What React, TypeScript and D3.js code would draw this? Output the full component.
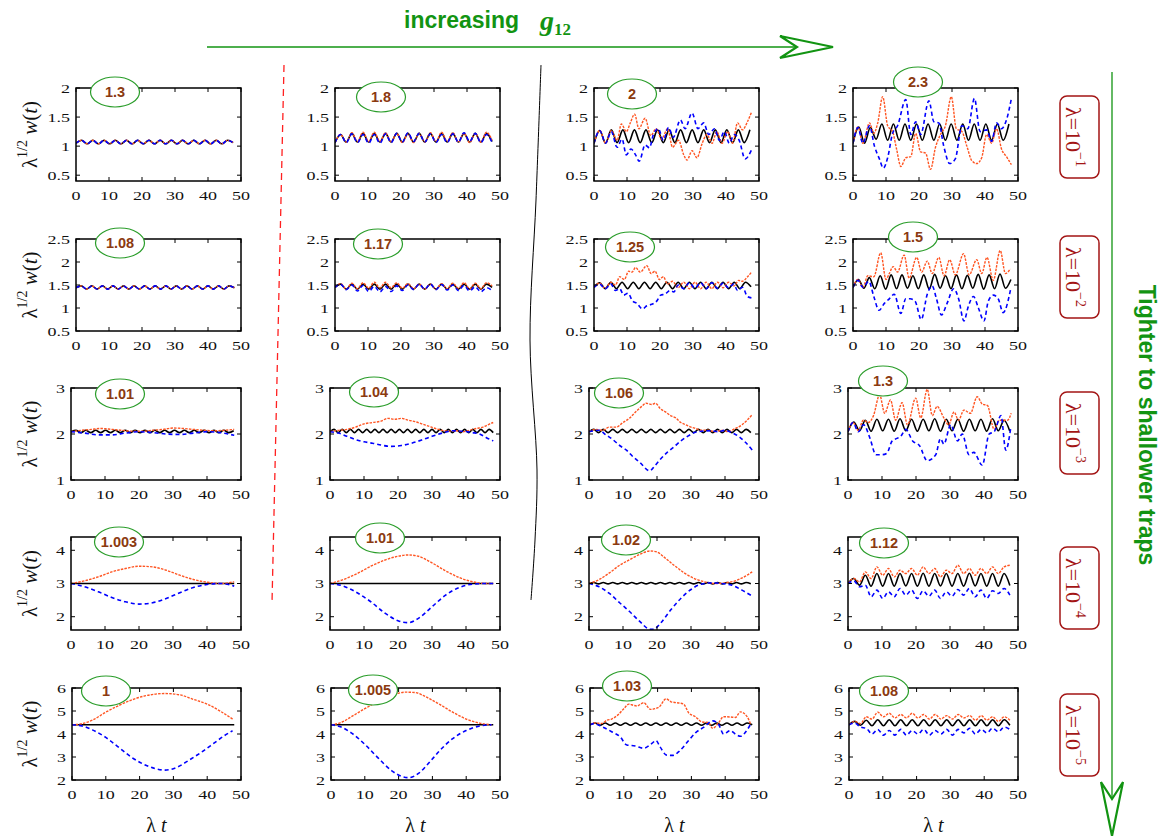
import React from "react";
import * as d3 from "d3";

type Pt = [number, number];

// ---------------- axis / label data ----------------
const xTicks = [0, 10, 20, 30, 40, 50];
const xDomain: [number, number] = [0, 50];
const rowYDomains: [number, number][] = [[0.4, 2], [0.5, 2.5], [1, 3], [1.6, 4.4], [2, 6]];
const rowYTicks = [[0.5, 1, 1.5, 2], [0.5, 1, 1.5, 2, 2.5], [1, 2, 3], [2, 3, 4], [2, 3, 4, 5, 6]];
const g12Labels = [
  ["1.3", "1.8", "2", "2.3"],
  ["1.08", "1.17", "1.25", "1.5"],
  ["1.01", "1.04", "1.06", "1.3"],
  ["1.003", "1.01", "1.02", "1.12"],
  ["1", "1.005", "1.03", "1.08"],
];
const lambdaExponents = ["\u22121", "\u22122", "\u22123", "\u22124", "\u22125"];

// ---------------- black (mean width) series: values at successive half-periods ----------------
const blackSteps = [
  [1.7, 1.7, 1.75, 1.75],
  [1.6, 1.7, 1.7, 1.65],
  [1.45, 1.2, 1.4, 1.7],
  [48, 48, 1.4, 1.7],
  [48, 48, 1.5, 1.7],
];

const r1c1Osc = [1.05, 1.1, 1.04, 1.1, 1.04, 1.1, 1.04, 1.1, 1.04, 1.1, 1.04, 1.1, 1.04, 1.1, 1.04, 1.1, 1.04, 1.1, 1.04, 1.1, 1.04, 1.1, 1.04, 1.1, 1.04, 1.1, 1.04, 1.1, 1.06];
const r1c2Black = [1.06, 1.2, 1.07, 1.22, 1.07, 1.22, 1.07, 1.22, 1.07, 1.22, 1.07, 1.22, 1.07, 1.22, 1.07, 1.22, 1.07, 1.22, 1.07, 1.22, 1.07, 1.22, 1.07, 1.22, 1.07, 1.22, 1.07, 1.22, 1.08];
const r1c2Orange = [1.06, 1.2, 1.07, 1.23, 1.08, 1.24, 1.08, 1.24, 1.08, 1.23, 1.07, 1.22, 1.06, 1.21, 1.06, 1.22, 1.07, 1.23, 1.08, 1.24, 1.08, 1.23, 1.07, 1.22, 1.06, 1.22, 1.07, 1.24, 1.1];
const r1c2Blue = [1.06, 1.2, 1.06, 1.21, 1.06, 1.2, 1.05, 1.2, 1.05, 1.21, 1.06, 1.22, 1.07, 1.23, 1.08, 1.22, 1.07, 1.21, 1.06, 1.2, 1.06, 1.21, 1.07, 1.23, 1.08, 1.22, 1.06, 1.2, 1.06];
const r1c3Black = [1.05, 1.27, 1.05, 1.28, 1.06, 1.28, 1.06, 1.28, 1.06, 1.28, 1.06, 1.28, 1.06, 1.28, 1.06, 1.28, 1.06, 1.28, 1.06, 1.28, 1.06, 1.28, 1.06, 1.28, 1.06, 1.28, 1.06, 1.28];
const r1c4Black = [1.05, 1.33, 1.05, 1.32, 1.12, 1.38, 1.1, 1.38, 1.1, 1.38, 1.1, 1.38, 1.1, 1.38, 1.1, 1.38, 1.1, 1.38, 1.1, 1.38, 1.1, 1.38, 1.1, 1.38, 1.1, 1.38, 1.1, 1.38];

const r2c1Osc = [1.44, 1.48, 1.41, 1.48, 1.41, 1.48, 1.41, 1.48, 1.41, 1.48, 1.41, 1.48, 1.41, 1.48, 1.41, 1.48, 1.41, 1.48, 1.41, 1.48, 1.41, 1.48, 1.41, 1.48, 1.41, 1.48, 1.41, 1.48, 1.41, 1.48, 1.44];
const r2c2Black = [1.45, 1.52, 1.41, 1.52, 1.41, 1.52, 1.41, 1.52, 1.41, 1.52, 1.41, 1.52, 1.41, 1.52, 1.41, 1.52, 1.41, 1.52, 1.41, 1.52, 1.41, 1.52, 1.41, 1.52, 1.41, 1.52, 1.41, 1.52, 1.45];
const r2c2Orange = [1.45, 1.53, 1.41, 1.54, 1.42, 1.55, 1.43, 1.56, 1.44, 1.56, 1.44, 1.55, 1.43, 1.53, 1.42, 1.52, 1.41, 1.52, 1.41, 1.53, 1.42, 1.54, 1.43, 1.55, 1.42, 1.54, 1.42, 1.55, 1.48];
const r2c2Blue = [1.45, 1.52, 1.4, 1.5, 1.37, 1.49, 1.36, 1.47, 1.35, 1.47, 1.36, 1.48, 1.38, 1.5, 1.4, 1.52, 1.41, 1.52, 1.4, 1.51, 1.39, 1.5, 1.38, 1.49, 1.37, 1.46, 1.35, 1.44, 1.38];
const r2c3Black = [1.45, 1.55, 1.42, 1.56, 1.42, 1.56, 1.42, 1.56, 1.42, 1.56, 1.42, 1.56, 1.42, 1.56, 1.42, 1.56, 1.42, 1.56, 1.42, 1.56, 1.42, 1.56, 1.42, 1.56, 1.42, 1.56, 1.42, 1.56, 1.46];
const r2c4Black = [1.45, 1.62, 1.43, 1.66, 1.42, 1.7, 1.41, 1.72, 1.42, 1.72, 1.43, 1.7, 1.42, 1.72, 1.41, 1.73, 1.43, 1.7, 1.42, 1.72, 1.42, 1.71, 1.43, 1.73, 1.41, 1.72, 1.42, 1.74, 1.43, 1.62];

const r3c1Black = [2.05, 2.08, 2.03, 2.08, 2.03, 2.08, 2.03, 2.08, 2.03, 2.08, 2.03, 2.08, 2.03, 2.08, 2.03, 2.08, 2.03, 2.08, 2.03, 2.08, 2.03, 2.08, 2.03, 2.08, 2.03, 2.08, 2.03, 2.08, 2.03, 2.08, 2.03, 2.08, 2.03, 2.07];
const r3c2Black = [2.05, 2.1, 2.03, 2.1, 2.03, 2.1, 2.03, 2.1, 2.03, 2.1, 2.03, 2.1, 2.03, 2.1, 2.03, 2.1, 2.03, 2.1, 2.03, 2.1, 2.03, 2.1, 2.03, 2.1, 2.03, 2.1, 2.03, 2.1, 2.03, 2.1, 2.03, 2.1, 2.03, 2.1, 2.03, 2.1, 2.03, 2.1, 2.03, 2.1, 2.03];
const r3c3Black = [2.05, 2.1, 2.03, 2.1, 2.03, 2.1, 2.03, 2.1, 2.03, 2.1, 2.03, 2.1, 2.03, 2.1, 2.03, 2.1, 2.03, 2.1, 2.03, 2.1, 2.03, 2.1, 2.03, 2.1, 2.03, 2.1, 2.03, 2.1, 2.03, 2.1, 2.03, 2.1, 2.03, 2.1, 2.03];
const r3c4Black = [2.05, 2.26, 2.07, 2.3, 2.06, 2.32, 2.07, 2.32, 2.06, 2.33, 2.07, 2.32, 2.06, 2.32, 2.07, 2.33, 2.06, 2.32, 2.07, 2.32, 2.06, 2.32, 2.07, 2.32, 2.06, 2.33, 2.07, 2.3, 2.06];

const r4c1Black = [3.0, 3.0];
const r4c2Black = [3.0, 3.0];
const r4c3Black = [3.0, 3.03, 2.99, 3.03, 2.99, 3.03, 2.99, 3.03, 2.99, 3.03, 2.99, 3.03, 2.99, 3.03, 2.99, 3.03, 2.99, 3.03, 2.99, 3.03, 2.99, 3.03, 2.99, 3.03, 2.99, 3.03, 2.99, 3.03, 2.99, 3.03, 2.99, 3.03, 2.99, 3.03, 2.99];
const r4c4Black = [3.0, 3.15, 2.95, 3.25, 2.92, 3.3, 2.92, 3.3, 2.92, 3.3, 2.93, 3.3, 2.92, 3.31, 2.92, 3.3, 2.93, 3.3, 2.92, 3.3, 2.92, 3.31, 2.93, 3.3, 2.92, 3.3, 2.92, 3.3, 2.94];

const r5c1Black = [4.4, 4.4];
const r5c2Black = [4.4, 4.4];
const r5c3Black = [4.4, 4.48, 4.38, 4.48, 4.38, 4.48, 4.38, 4.48, 4.38, 4.48, 4.38, 4.48, 4.38, 4.48, 4.38, 4.48, 4.38, 4.48, 4.38, 4.48, 4.38, 4.48, 4.38, 4.48, 4.38, 4.48, 4.38, 4.48, 4.38, 4.48, 4.38, 4.48, 4.4];
const r5c4Black = [4.4, 4.55, 4.38, 4.6, 4.36, 4.62, 4.36, 4.62, 4.36, 4.62, 4.36, 4.62, 4.36, 4.62, 4.36, 4.62, 4.36, 4.62, 4.36, 4.62, 4.36, 4.62, 4.36, 4.62, 4.36, 4.62, 4.36, 4.62, 4.38];

// ---------------- component series (t, value) ----------------
const r1c3Orange: Pt[] = [[0, 1.05], [1.75, 1.27], [3.5, 1.05], [5.25, 1.27], [7, 1.1], [8.3, 1.38], [9.8, 1.25], [11, 1.4], [12.3, 1.55], [13.6, 1.3], [15.5, 1.48], [17.2, 1.18], [18.8, 1.3], [20.5, 1.12], [22.3, 1.3], [23.8, 0.98], [25.6, 1.1], [27.2, 0.85], [28.2, 0.76], [29.7, 0.92], [31.2, 0.8], [32.8, 1.05], [34.2, 1.2], [35.8, 1.05], [37.2, 1.25], [38.8, 1.05], [40.5, 1.25], [42, 1.05], [43.5, 1.4], [45, 1.28], [46.5, 1.42], [47.7, 1.58]];
const r1c3Blue: Pt[] = [[0, 1.05], [1.75, 1.27], [3.5, 1.05], [5.25, 1.25], [7, 0.98], [8.5, 1.12], [9.8, 0.85], [11.2, 0.95], [12.6, 0.85], [13.7, 0.74], [15.5, 1.02], [16.8, 0.97], [18, 1.2], [19.5, 1.3], [21, 1.1], [22.6, 1.32], [24, 1.15], [26.2, 1.45], [27.6, 1.3], [29.7, 1.57], [31.5, 1.3], [33.2, 1.4], [34.8, 1.2], [36.5, 1.3], [38, 1.1], [39.5, 1.25], [41, 1.05], [42.5, 1.2], [44, 1.1], [45.8, 0.78], [47.7, 0.93]];
const r1c4Orange: Pt[] = [[0, 1.05], [1.5, 1.33], [3, 1.05], [5, 1.4], [6.3, 1.22], [7.5, 1.4], [9, 1.85], [10.5, 1.35], [12, 1.25], [13.2, 0.95], [14.5, 0.65], [16, 0.8], [17.5, 0.82], [19, 1.22], [20.5, 0.9], [22, 0.88], [23.5, 0.6], [25, 0.98], [26.5, 1.2], [28, 1.35], [29.8, 1.85], [31.3, 1.3], [33, 1.25], [34.5, 1.0], [36, 0.75], [37.5, 0.7], [39, 0.8], [40.5, 1.2], [42, 1.05], [43.5, 1.3], [45, 0.95], [46.5, 0.82], [48, 0.68]];
const r1c4Blue: Pt[] = [[0, 1.05], [1.5, 1.32], [3, 1.05], [5, 1.35], [6.5, 1.0], [8, 0.78], [9.2, 0.62], [10.5, 0.8], [12, 1.22], [13.5, 1.35], [16, 1.8], [17.5, 1.2], [19, 1.42], [20.5, 1.2], [23, 1.78], [24.5, 1.42], [26, 1.4], [27.5, 1.0], [29.3, 0.7], [31, 0.78], [33, 1.35], [34.8, 1.3], [36.8, 1.82], [38.5, 1.25], [40.5, 1.28], [42, 1.08], [43.5, 1.4], [45, 1.3], [46.5, 1.45], [48, 1.82]];

const r2c3Orange: Pt[] = [[0, 1.45], [1.7, 1.54], [3.4, 1.43], [5.1, 1.56], [6.5, 1.5], [7.8, 1.68], [9.2, 1.62], [10.5, 1.8], [11.5, 1.78], [12.6, 1.88], [14, 1.78], [16, 1.92], [17.3, 1.75], [18.5, 1.8], [19.8, 1.62], [21, 1.68], [22.3, 1.52], [23.8, 1.58], [25.5, 1.44], [27.2, 1.56], [28.9, 1.42], [30.6, 1.56], [32.3, 1.42], [34, 1.56], [35.7, 1.42], [37.4, 1.56], [39.1, 1.44], [40.8, 1.56], [42.5, 1.48], [43.8, 1.6], [45, 1.58], [46.3, 1.66], [47.7, 1.78]];
const r2c3Blue: Pt[] = [[0, 1.45], [1.7, 1.52], [3.4, 1.42], [5.1, 1.52], [6.5, 1.38], [7.8, 1.42], [9, 1.28], [10.3, 1.32], [11.7, 1.15], [13, 1.1], [14.7, 0.98], [16, 1.05], [17.5, 1.08], [19, 1.15], [20.2, 1.28], [21.5, 1.3], [23, 1.38], [24.2, 1.35], [25.5, 1.5], [27.2, 1.42], [28.9, 1.55], [30.6, 1.43], [32.3, 1.55], [34, 1.42], [35.7, 1.55], [37.4, 1.43], [39.1, 1.54], [40.8, 1.44], [42.3, 1.52], [43.5, 1.38], [45, 1.45], [46.5, 1.25], [47.7, 1.22]];
const r2c4Orange: Pt[] = [[0, 1.45], [1.5, 1.62], [3, 1.45], [4.5, 1.7], [6.3, 1.68], [8.4, 2.2], [10, 1.62], [11, 1.75], [12.2, 1.9], [13.5, 1.78], [15.5, 2.15], [17, 1.65], [19.3, 2.1], [20.8, 1.78], [22.5, 2.02], [24, 1.75], [26, 2.1], [27.6, 1.7], [29.3, 2.05], [31, 1.72], [33.5, 2.18], [35.2, 1.72], [37.5, 2.05], [39, 1.75], [40.6, 2.1], [42.5, 1.6], [44.6, 2.25], [46.2, 1.75], [47.7, 1.85]];
const r2c4Blue: Pt[] = [[0, 1.45], [1.5, 1.6], [3, 1.45], [4.8, 1.58], [6.3, 1.25], [7.9, 0.95], [9.5, 1.1], [11, 1.2], [12.5, 1.3], [14.5, 0.88], [16, 1.2], [17.3, 1.2], [18.8, 1.15], [20.7, 0.75], [22.5, 1.3], [24, 1.48], [25.3, 1.2], [26.8, 0.85], [28.5, 1.1], [30.5, 1.42], [32, 1.2], [33.6, 0.72], [35, 1.05], [36.5, 1.25], [38, 1.0], [39.7, 0.72], [41, 1.15], [42.5, 1.28], [44, 1.2], [45.5, 0.9], [47.8, 1.42]];

const r3c1Orange: Pt[] = [[0, 2.05], [3, 2.08], [6, 2.1], [9, 2.12], [12, 2.1], [15, 2.08], [18, 2.06], [21, 2.06], [24, 2.08], [27, 2.1], [30, 2.13], [33, 2.12], [36, 2.1], [39, 2.08], [42, 2.07], [45, 2.08], [48, 2.1]];
const r3c1Blue: Pt[] = [[0, 2.05], [4, 2.02], [8, 1.98], [12, 1.98], [16, 2.02], [20, 2.05], [24, 2.03], [28, 2.0], [32, 1.99], [36, 2.02], [40, 2.05], [44, 2.03], [48, 1.97]];
const r3c2Orange: Pt[] = [[0, 2.05], [2.5, 2.08], [5, 2.1], [7.5, 2.15], [10, 2.22], [12.5, 2.25], [15, 2.28], [17, 2.34], [19, 2.32], [21, 2.34], [23, 2.3], [25, 2.27], [27, 2.22], [29, 2.17], [31, 2.12], [33, 2.08], [35, 2.06], [37, 2.07], [39, 2.05], [41, 2.08], [43, 2.12], [45, 2.15], [47, 2.22], [48, 2.25]];
const r3c2Blue: Pt[] = [[0, 2.05], [2.5, 2.02], [5, 1.95], [7.5, 1.88], [10, 1.83], [12.5, 1.8], [15, 1.76], [18, 1.73], [21, 1.75], [24, 1.8], [27, 1.87], [30, 1.95], [33, 2.02], [36, 2.07], [39, 2.06], [42, 2.03], [44, 2.0], [46, 1.92], [48, 1.85]];
const r3c3Orange: Pt[] = [[0, 2.05], [2, 2.1], [4, 2.08], [6, 2.15], [8, 2.15], [10, 2.25], [12, 2.35], [14, 2.5], [15.5, 2.6], [16.8, 2.67], [18.5, 2.64], [19.5, 2.67], [21, 2.55], [22.5, 2.48], [24, 2.4], [25.5, 2.35], [27, 2.25], [28.5, 2.2], [30, 2.15], [31.5, 2.12], [33, 2.08], [35, 2.08], [37, 2.05], [39, 2.08], [41, 2.05], [43, 2.12], [45, 2.2], [46.5, 2.3], [48, 2.42]];
const r3c3Blue: Pt[] = [[0, 2.05], [3, 2.08], [5, 1.98], [7, 1.88], [9, 1.75], [11, 1.65], [13, 1.5], [15, 1.38], [17.8, 1.2], [19.5, 1.32], [21, 1.45], [23, 1.6], [25, 1.72], [27, 1.85], [29, 1.95], [31, 2.03], [33, 2.06], [36, 2.07], [38, 2.05], [40, 2.08], [42, 2.03], [44, 1.95], [46, 1.82], [48, 1.65]];
const r3c4Orange: Pt[] = [[0, 2.05], [1.5, 2.25], [3, 2.08], [4.5, 2.3], [6, 2.25], [7.5, 2.4], [9.3, 2.85], [10.8, 2.45], [12.5, 2.74], [14, 2.3], [15.9, 2.68], [17.5, 2.2], [19.9, 2.78], [21.4, 2.35], [23.3, 2.97], [24.8, 2.4], [26.2, 2.6], [28.2, 2.35], [29.6, 2.2], [31.2, 2.48], [32.5, 2.3], [34.1, 2.52], [36, 2.45], [38, 2.81], [39.5, 2.65], [41, 2.62], [43, 2.1], [44.5, 2.3], [46.9, 2.3], [48, 2.45]];
const r3c4Blue: Pt[] = [[0, 2.05], [1.5, 2.25], [3, 2.05], [4.6, 2.2], [6.5, 1.9], [8.2, 1.55], [10, 1.55], [11.4, 1.58], [13, 1.85], [14.2, 1.9], [15.5, 1.95], [17, 2.1], [19, 1.85], [21, 1.75], [23.3, 1.42], [25.8, 1.55], [27.2, 1.9], [28.2, 1.78], [30.2, 2.2], [32.2, 1.85], [33.6, 2.0], [35.6, 1.55], [37, 1.6], [39.5, 1.32], [41.5, 2.0], [43, 2.05], [45, 2.4], [46.4, 1.65], [47.9, 2.15]];

const r4c1Orange: Pt[] = [[0, 3.0], [4, 3.08], [8, 3.2], [12, 3.35], [16, 3.45], [20, 3.52], [24, 3.5], [28, 3.4], [32, 3.25], [36, 3.12], [40, 3.04], [44, 3.0], [48, 3.05]];
const r4c1Blue: Pt[] = [[0, 3.0], [4, 2.9], [8, 2.75], [12, 2.58], [16, 2.45], [20, 2.38], [24, 2.42], [28, 2.55], [32, 2.72], [36, 2.88], [40, 2.97], [44, 3.0], [48, 2.92]];
const r4c2Orange: Pt[] = [[0, 3.0], [4, 3.12], [8, 3.3], [12, 3.52], [16, 3.7], [20, 3.82], [23, 3.86], [26, 3.82], [30, 3.62], [34, 3.38], [38, 3.18], [42, 3.05], [46, 3.0], [48, 3.0]];
const r4c2Blue: Pt[] = [[0, 3.0], [4, 2.92], [8, 2.72], [12, 2.45], [16, 2.12], [20, 1.88], [23, 1.82], [26, 1.95], [30, 2.3], [34, 2.65], [38, 2.88], [42, 2.98], [46, 3.0], [48, 3.0]];
const r4c3Orange: Pt[] = [[0, 3.0], [3, 3.12], [6, 3.32], [9, 3.55], [12, 3.72], [15, 3.88], [18, 3.98], [20, 3.95], [22, 3.8], [25, 3.55], [28, 3.32], [31, 3.15], [34, 3.05], [37, 3.0], [40, 3.02], [43, 3.08], [46, 3.22], [48, 3.35]];
const r4c3Blue: Pt[] = [[0, 3.0], [3, 2.9], [6, 2.7], [9, 2.42], [12, 2.15], [15, 1.85], [18, 1.62], [19, 1.62], [21, 1.8], [24, 2.2], [27, 2.55], [30, 2.82], [33, 2.98], [36, 3.02], [39, 3.0], [42, 2.95], [45, 2.8], [48, 2.62]];
const r4c4Orange: Pt[] = [[0, 3.0], [1.7, 3.15], [3.4, 3.05], [5.1, 3.35], [6.8, 3.15], [8.5, 3.5], [10.2, 3.25], [11.9, 3.45], [13.6, 3.2], [15.3, 3.4], [17, 3.3], [18.7, 3.45], [20.4, 3.25], [22.1, 3.5], [23.8, 3.3], [25.5, 3.45], [27.2, 3.2], [28.9, 3.4], [30.6, 3.3], [32.3, 3.55], [34, 3.3], [35.7, 3.45], [37.4, 3.25], [39.1, 3.45], [40.8, 3.3], [42.5, 3.5], [44.2, 3.3], [45.9, 3.5], [47.6, 3.55]];
const r4c4Blue: Pt[] = [[0, 3.0], [1.7, 3.08], [3.4, 2.9], [5.1, 2.95], [6.8, 2.6], [8.5, 2.8], [10.2, 2.55], [11.9, 2.75], [13.6, 2.6], [15.3, 2.85], [17, 2.65], [18.7, 2.8], [20.4, 2.55], [22.1, 2.78], [23.8, 2.62], [25.5, 2.8], [27.2, 2.55], [28.9, 2.75], [30.6, 2.62], [32.3, 2.82], [34, 2.65], [35.7, 2.85], [37.4, 2.6], [39.1, 2.8], [40.8, 2.55], [42.5, 2.78], [44.2, 2.7], [45.9, 2.85], [47.6, 2.65]];

const r5c1Orange: Pt[] = [[0, 4.4], [3, 4.45], [6, 4.6], [10, 4.95], [14, 5.25], [18, 5.5], [22, 5.67], [27.5, 5.76], [32, 5.7], [36, 5.5], [40, 5.3], [44, 4.98], [47.5, 4.65]];
const r5c1Blue: Pt[] = [[0, 4.4], [3, 4.35], [6, 4.18], [10, 3.85], [14, 3.4], [17.5, 3.0], [21, 2.7], [24.5, 2.5], [27.5, 2.43], [31, 2.55], [34.5, 2.85], [38, 3.18], [42, 3.6], [45, 3.92], [47.5, 4.14]];
const r5c2Orange: Pt[] = [[0, 4.4], [3, 4.5], [6, 4.75], [10, 5.1], [14, 5.42], [18, 5.68], [22, 5.82], [25, 5.8], [28, 5.62], [32, 5.3], [36, 4.95], [40, 4.65], [44, 4.47], [47.5, 4.4]];
const r5c2Blue: Pt[] = [[0, 4.4], [3, 4.3], [6, 4.05], [10, 3.55], [14, 2.95], [18, 2.4], [21, 2.15], [23, 2.1], [26, 2.3], [29, 2.75], [32, 3.25], [36, 3.8], [40, 4.15], [44, 4.35], [47.5, 4.4]];
const r5c3Orange: Pt[] = [[0, 4.4], [1.2, 4.48], [3.5, 4.46], [5, 4.6], [6.4, 4.65], [8.4, 4.85], [10, 5.1], [11.5, 5.3], [12.8, 5.25], [13.9, 5.22], [15.9, 5.36], [17.9, 5.07], [20.4, 5.17], [22.5, 5.53], [24, 5.4], [25.7, 5.36], [27.7, 5.3], [29.2, 4.92], [31.2, 4.75], [33.2, 4.52], [35, 4.5], [36.3, 4.25], [38.1, 4.5], [39.5, 4.75], [41.5, 4.74], [43, 4.72], [44.5, 4.96], [46.5, 4.75], [47.5, 4.43]];
const r5c3Blue: Pt[] = [[0, 4.4], [1.2, 4.45], [3.5, 4.32], [6.4, 4.1], [8.9, 3.88], [10.9, 3.52], [13.4, 3.48], [15.9, 3.38], [18.4, 3.6], [19.5, 3.72], [20.7, 3.45], [22.7, 3.08], [24.6, 3.07], [26.6, 3.28], [29.2, 3.72], [31.2, 4.05], [33.7, 4.3], [36.3, 4.57], [38.1, 4.4], [39.5, 4.0], [41.5, 4.15], [43, 4.0], [44.5, 3.9], [46.5, 4.18], [47.5, 4.42]];
const r5c4Orange: Pt[] = [[0, 4.4], [1.7, 4.55], [3.4, 4.45], [5.1, 4.75], [6.8, 4.65], [8.5, 4.95], [10.2, 4.75], [11.9, 4.9], [13.6, 4.7], [15.3, 4.85], [17, 4.7], [18.7, 4.9], [20.4, 4.7], [22.1, 4.85], [23.8, 4.65], [25.5, 4.85], [27.2, 4.65], [28.9, 4.8], [30.6, 4.65], [32.3, 4.85], [34, 4.7], [35.7, 4.8], [37.4, 4.6], [39.1, 4.8], [40.8, 4.6], [42.5, 4.75], [44.2, 4.55], [45.9, 4.75], [47.6, 4.6]];
const r5c4Blue: Pt[] = [[0, 4.4], [1.7, 4.48], [3.4, 4.3], [5.1, 4.25], [6.8, 4.0], [8.5, 4.2], [10.2, 3.95], [11.9, 4.15], [13.6, 3.95], [15.3, 4.2], [17, 3.95], [18.7, 4.15], [20.4, 4.0], [22.1, 4.2], [23.8, 3.95], [25.5, 4.15], [27.2, 4.0], [28.9, 4.2], [30.6, 3.95], [32.3, 4.2], [34, 4.05], [35.7, 4.25], [37.4, 4.0], [39.1, 4.2], [40.8, 4.05], [42.5, 4.25], [44.2, 4.1], [45.9, 4.3], [47.6, 4.2]];

// values sampled at successive half periods -> (t, value)
const alt = (step: number, ys: number[]): Pt[] => ys.map((y, i) => [i * step, y] as Pt);

const blackGrid = [
  [r1c1Osc, r1c2Black, r1c3Black, r1c4Black],
  [r2c1Osc, r2c2Black, r2c3Black, r2c4Black],
  [r3c1Black, r3c2Black, r3c3Black, r3c4Black],
  [r4c1Black, r4c2Black, r4c3Black, r4c4Black],
  [r5c1Black, r5c2Black, r5c3Black, r5c4Black],
];
const orangeGrid: Pt[][][] = [
  [alt(1.7, r1c1Osc), alt(1.7, r1c2Orange), r1c3Orange, r1c4Orange],
  [alt(1.6, r2c1Osc), alt(1.7, r2c2Orange), r2c3Orange, r2c4Orange],
  [r3c1Orange, r3c2Orange, r3c3Orange, r3c4Orange],
  [r4c1Orange, r4c2Orange, r4c3Orange, r4c4Orange],
  [r5c1Orange, r5c2Orange, r5c3Orange, r5c4Orange],
];
const blueGrid: Pt[][][] = [
  [alt(1.7, r1c1Osc), alt(1.7, r1c2Blue), r1c3Blue, r1c4Blue],
  [alt(1.6, r2c1Osc), alt(1.7, r2c2Blue), r2c3Blue, r2c4Blue],
  [r3c1Blue, r3c2Blue, r3c3Blue, r3c4Blue],
  [r4c1Blue, r4c2Blue, r4c3Blue, r4c4Blue],
  [r5c1Blue, r5c2Blue, r5c3Blue, r5c4Blue],
];

// ---------------- layout ----------------
const W = 1165;
const H = 836;
const colRight = [241, 500, 759, 1018];
const rowTop = [88, 239, 388, 537, 688];
const rowBottom = [181, 331, 480, 630, 780];
const rowWidth = [165, 165, 170, 170, 169];
const ovalCenters: [number, number][][] = [
  [[115, 92], [381, 97], [632, 94], [918, 82]],
  [[120, 243], [378, 244], [630, 247], [913, 237]],
  [[120, 394], [374, 392], [619, 393], [883, 381]],
  [[119, 542], [380, 538], [626, 540], [884, 543]],
  [[106, 691], [373, 690], [627, 686], [884, 691]],
];
const lambdaBoxCY = [137, 277, 433, 588, 735];

const GREEN = "#129412";
const ORANGE = "#ff5522";
const BLUE = "#0000ff";
const BROWN = "#8b3a10";
const DARKRED = "#a31515";
const SERIF = "'Liberation Serif', 'Times New Roman', serif";
const SANS = "'Liberation Sans', Arial, sans-serif";

function Panel({ r, c }: { r: number; c: number }) {
  const x0 = colRight[c] - rowWidth[r];
  const x1 = colRight[c];
  const y0 = rowTop[r];
  const y1 = rowBottom[r];
  const xs = d3.scaleLinear().domain(xDomain).range([x0, x1]);
  const ys = d3.scaleLinear().domain(rowYDomains[r]).range([y1, y0]);
  const line = d3
    .line<Pt>()
    .x((d) => xs(d[0]))
    .y((d) => ys(d[1]))
    .curve(d3.curveMonotoneX);
  const id = `clip-${r}-${c}`;
  const black = alt(blackSteps[r][c], blackGrid[r][c]);
  const [ox, oy] = ovalCenters[r][c];
  const tl = 4;
  return (
    <g>
      <defs>
        <clipPath id={id}>
          <rect x={x0} y={y0} width={x1 - x0} height={y1 - y0} />
        </clipPath>
      </defs>
      <g clipPath={`url(#${id})`}>
        <path d={line(black) || ""} fill="none" stroke="#000" strokeWidth={1.6} />
        <path d={line(orangeGrid[r][c]) || ""} fill="none" stroke={ORANGE} strokeWidth={1.4} strokeDasharray="2.5 1.2" />
        <path d={line(blueGrid[r][c]) || ""} fill="none" stroke={BLUE} strokeWidth={1.6} strokeDasharray="4 3" />
      </g>
      <rect x={x0} y={y0} width={x1 - x0} height={y1 - y0} fill="none" stroke="#000" strokeWidth={1.5} />
      {xTicks.map((t) => (
        <g key={`xt${t}`}>
          <line x1={xs(t)} x2={xs(t)} y1={y1} y2={y1 - tl} stroke="#000" strokeWidth={1} />
          <line x1={xs(t)} x2={xs(t)} y1={y0} y2={y0 + tl} stroke="#000" strokeWidth={1} />
          <text
            transform={`translate(${xs(t)},${y1 + 18.5}) scale(1,0.72)`}
            textAnchor="middle"
            fontSize={18}
            fontFamily={SERIF}
            fill="#111"
          >
            {String(t)}
          </text>
        </g>
      ))}
      {rowYTicks[r].map((v) => (
        <g key={`yt${v}`}>
          <line x1={x0} x2={x0 + tl} y1={ys(v)} y2={ys(v)} stroke="#000" strokeWidth={1} />
          <line x1={x1} x2={x1 - tl} y1={ys(v)} y2={ys(v)} stroke="#000" strokeWidth={1} />
          <text
            transform={`translate(${x0 - 6},${ys(v) + 4.5}) scale(1,0.72)`}
            textAnchor="end"
            fontSize={18}
            fontFamily={SERIF}
            fill="#111"
          >
            {String(v)}
          </text>
        </g>
      ))}
      <ellipse cx={ox} cy={oy} rx={24.5} ry={15} fill="#fff" stroke="#2a9d2a" strokeWidth={1.2} />
      <text x={ox} y={oy + 5} textAnchor="middle" fontSize={14.5} fontWeight="bold" fontFamily={SANS} fill={BROWN}>
        {g12Labels[r][c]}
      </text>
    </g>
  );
}

export default function App() {
  const rows = [0, 1, 2, 3, 4];
  const cols = [0, 1, 2, 3];
  const dividerPts: Pt[] = [[541, 65], [536, 200], [530, 340], [537, 470], [535, 540], [531, 600]];
  const curve = d3.line<Pt>().curve(d3.curveCatmullRom)(dividerPts) || "";
  return (
    <svg width={W} height={H} style={{ position: "absolute", left: 0, top: 0, background: "#fff" }}>
      <rect x={0} y={0} width={W} height={H} fill="#fff" />
      {/* top title and arrow */}
      <text x={404} y={28} fontFamily={SANS} fontWeight="bold" fontSize={23} fill={GREEN}>
        increasing
      </text>
      <text x={540} y={30} fontFamily={SERIF} fontStyle="italic" fontWeight="bold" fontSize={28} fill={GREEN}>
        g
        <tspan fontSize={17} dy={5} fontStyle="normal">
          12
        </tspan>
      </text>
      <line x1={207} x2={800} y1={47} y2={47} stroke={GREEN} strokeWidth={1.3} />
      <path d="M833,47 L780,36 L797,47 L780,58 Z" fill="#fff" stroke={GREEN} strokeWidth={2.2} strokeLinejoin="miter" />

      {/* right arrow and label */}
      <line x1={1112} x2={1112} y1={72} y2={800} stroke={GREEN} strokeWidth={1.3} />
      <path d="M1112,836 L1101,782 L1112,799 L1123,782 Z" fill="#fff" stroke={GREEN} strokeWidth={2.2} />
      <text
        transform="translate(1139,425) rotate(90)"
        textAnchor="middle"
        fontFamily={SANS}
        fontWeight="bold"
        fontSize={23}
        fill={GREEN}
      >
        Tighter to shallower traps
      </text>

      {/* dividers */}
      <line x1={284} y1={65} x2={272} y2={603} stroke="#ff2020" strokeWidth={1.3} strokeDasharray="7 5" />
      <path d={curve} fill="none" stroke="#000" strokeWidth={1} />

      {rows.map((r) =>
        cols.map((c) => <Panel key={`${r}-${c}`} r={r} c={c} />)
      )}

      {/* y-axis labels */}
      {rows.map((r) => (
        <text
          key={`yl${r}`}
          transform={`translate(37,${(rowTop[r] + rowBottom[r]) / 2}) rotate(-90)`}
          textAnchor="middle"
          fontSize={21}
          fontFamily={SERIF}
          fill="#111"
        >
          λ
          <tspan fontSize={14} dy={-10}>
            1/2
          </tspan>
          <tspan dy={10} fontStyle="italic">
            {" w"}
          </tspan>
          <tspan>(</tspan>
          <tspan fontStyle="italic">t</tspan>
          <tspan>)</tspan>
        </text>
      ))}

      {/* x-axis labels */}
      {cols.map((c) => {
        const cx = colRight[c] - rowWidth[4] / 2;
        return (
          <text key={`xl${c}`} x={cx} y={832} textAnchor="middle" fontSize={20} fontFamily={SERIF} fill="#111">
            λ<tspan fontStyle="italic"> t</tspan>
          </text>
        );
      })}

      {/* lambda boxes */}
      {rows.map((r) => (
        <g key={`lb${r}`}>
          <rect x={1060} y={lambdaBoxCY[r] - 41} width={39} height={82} rx={7} ry={7} fill="#fff" stroke={DARKRED} strokeWidth={1.5} />
          <text
            transform={`translate(1066,${lambdaBoxCY[r]}) rotate(90)`}
            textAnchor="middle"
            fontSize={22}
            fontFamily={SERIF}
            fill={DARKRED}
          >
            λ=10
            <tspan fontSize={14} dy={-10}>
              {lambdaExponents[r]}
            </tspan>
          </text>
        </g>
      ))}
    </svg>
  );
}
